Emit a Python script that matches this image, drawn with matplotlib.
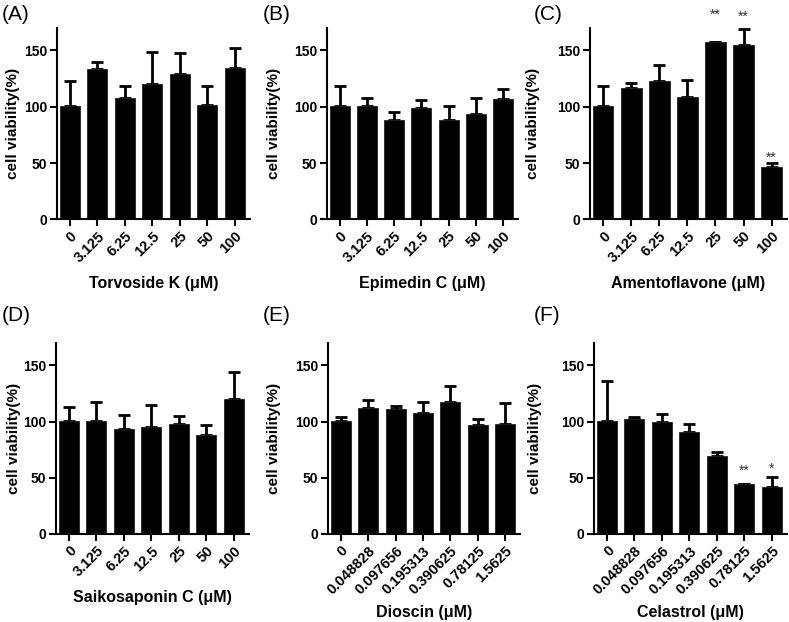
import numpy as np
import matplotlib
matplotlib.use("Agg")
from matplotlib import pyplot as plt

plt.rcParams['font.family'] = ['Liberation Sans', 'DejaVu Sans']

# concentrations
conc_a = ['0', '3.125', '6.25', '12.5', '25', '50', '100']
conc_b = ['0', '0.048828', '0.097656', '0.195313', '0.390625', '0.78125', '1.5625']

# means and upper error (SD) per compound
torvoside_mean = [101, 133.3, 107.5, 120.6, 128.9, 101.9, 134]
torvoside_err = [21.7, 6.6, 11.3, 28.2, 18.4, 16.9, 17.8]
epimedin_mean = [101, 100.7, 88.5, 99.2, 88.2, 93.9, 106.9]
epimedin_err = [17.2, 7.4, 7.1, 6.5, 12.8, 14.2, 8.6]
amento_mean = [101, 116.4, 123, 109, 157.1, 154.7, 46.6]
amento_err = [17.8, 4.8, 14.5, 15.1, 0.3, 14.3, 3.0]
saiko_mean = [100.7, 100.7, 93.6, 95.3, 97.7, 88.2, 120.3]
saiko_err = [12.5, 16.8, 12.4, 19.3, 7.4, 8.6, 24.0]
dioscin_mean = [101, 111.7, 110.8, 108.1, 117.9, 97.1, 98.3]
dioscin_err = [2.7, 7.4, 2.7, 9.2, 13.4, 5.1, 18.1]
celastrol_mean = [100.7, 102.5, 99.8, 91.2, 69.2, 44.3, 41.6]
celastrol_err = [35.6, 2.0, 6.8, 7.1, 4.2, 0.5, 9.5]

# significance marks (bar index, mark, height in % where it sits)
amento_sig = [(4, '**', 182), (5, '**', 180), (6, '**', 54.5)]
celastrol_sig = [(5, '**', 56), (6, '*', 58)]

panels = [
    ('(A)', 'Torvoside K (\u03bcM)', conc_a, torvoside_mean, torvoside_err, None),
    ('(B)', 'Epimedin C (\u03bcM)', conc_a, epimedin_mean, epimedin_err, None),
    ('(C)', 'Amentoflavone (\u03bcM)', conc_a, amento_mean, amento_err, amento_sig),
    ('(D)', 'Saikosaponin C (\u03bcM)', conc_a, saiko_mean, saiko_err, None),
    ('(E)', 'Dioscin (\u03bcM)', conc_b, dioscin_mean, dioscin_err, None),
    ('(F)', 'Celastrol (\u03bcM)', conc_b, celastrol_mean, celastrol_err, celastrol_sig),
]

# axes boxes [left, bottom, width, height] in figure fractions
boxes = [
    [0.0722, 0.6474, 0.2446, 0.3077],
    [0.4144, 0.6474, 0.2421, 0.3077],
    [0.7478, 0.6474, 0.2497, 0.3077],
    [0.0710, 0.1415, 0.2446, 0.3071],
    [0.4157, 0.1415, 0.2433, 0.3071],
    [0.7529, 0.1415, 0.2446, 0.3071],
]
ylab_x = [-0.228, -0.277, -0.29, -0.218, -0.28, -0.306]
xlab_y = [-0.335, -0.335, -0.335, -0.335, -0.41, -0.41]
tag_pos = [(0.002, 0.977), (0.333, 0.977), (0.676, 0.977), (0.002, 0.493), (0.333, 0.493), (0.676, 0.493)]

fig = plt.figure(figsize=(7.89, 6.22), dpi=100)

for i, (tag, xlab, cats, mean, err, sig) in enumerate(panels):
    ax = fig.add_axes(boxes[i])
    x = np.arange(len(cats))
    ax.bar(x, mean, width=0.73, color='black', edgecolor='#222222', linewidth=0.6, zorder=2)
    ax.errorbar(x, mean, yerr=[np.zeros(len(err)), err], fmt='none', ecolor='black',
                elinewidth=2, capsize=4, capthick=2, zorder=1)
    if sig is not None:
        for idx, s, yv in sig:
            ax.text(x[idx], yv, s, ha='center', va='center', fontsize=10,
                    color='#333333', clip_on=False)
    ax.set_xlim(-0.47, 6.55)
    ax.set_ylim(0, 170)
    ax.set_yticks([0, 50, 100, 150])
    ax.set_xticks(x)
    ax.set_xticklabels(cats, rotation=45, ha='right', rotation_mode='anchor',
                       fontsize=10.5, fontweight='bold')
    for lbl in ax.get_yticklabels():
        lbl.set_fontweight('bold')
        lbl.set_fontsize(10)
    ax.spines['top'].set_visible(False)
    ax.spines['right'].set_visible(False)
    ax.spines['left'].set_linewidth(1.5)
    ax.spines['bottom'].set_linewidth(1.5)
    ax.tick_params(axis='both', direction='out', length=5, width=1.5, pad=2)
    ax.set_ylabel('cell viability(%)', fontsize=11, fontweight='bold')
    ax.yaxis.set_label_coords(ylab_x[i], 0.5)
    ax.yaxis.label.set_va('center')
    ax.set_xlabel(xlab, fontsize=11.5, fontweight='bold')
    ax.xaxis.set_label_coords(0.5, xlab_y[i])
    ax.xaxis.label.set_va('center')
    fig.text(tag_pos[i][0], tag_pos[i][1], tag, fontsize=15, ha='left', va='center')

fig.savefig('out.png', dpi=100)
